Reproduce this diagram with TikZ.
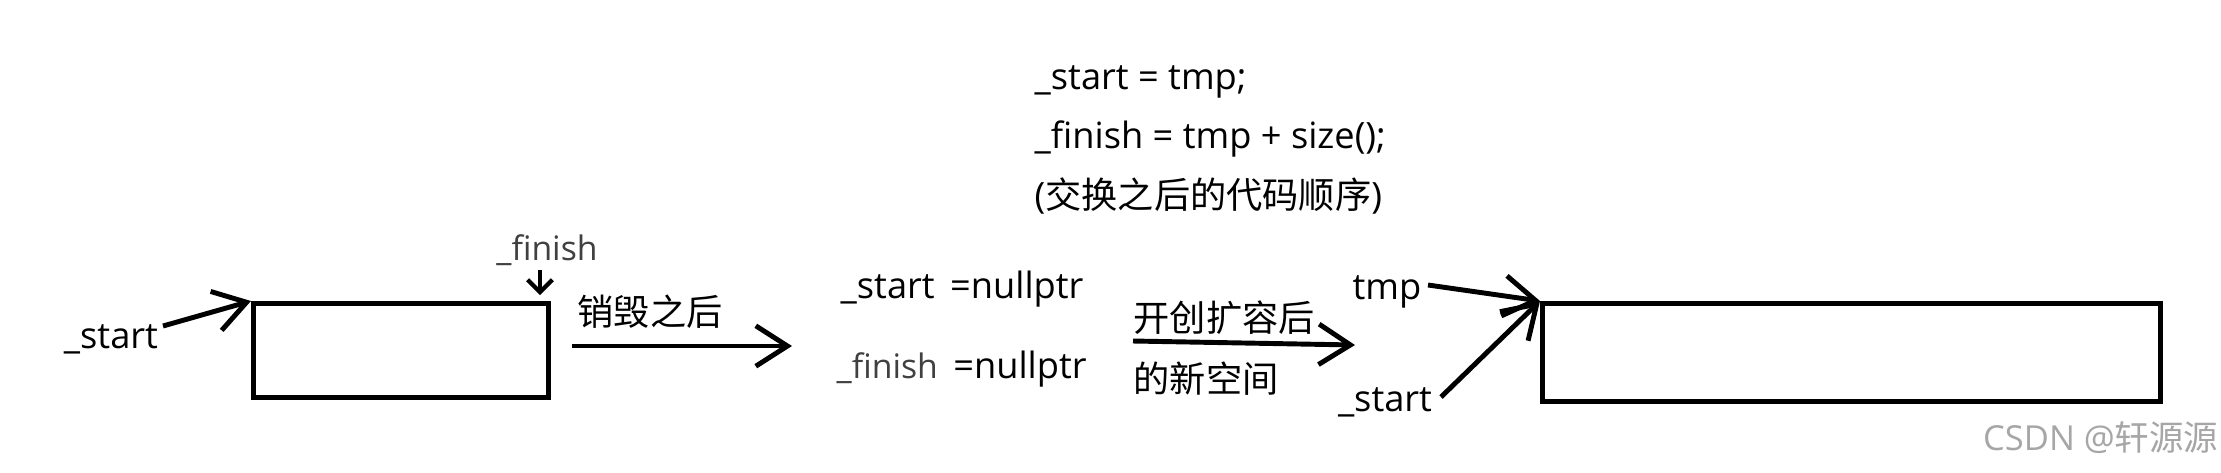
\documentclass[tikz,border=0pt]{standalone}
\usepackage{fontspec}
\setmainfont{Open Sans}
\newfontfamily\cjk{Noto Sans CJK SC}
\usetikzlibrary{arrows.meta}
\tikzset{
  lbl/.style={inner sep=0pt, font=\fontsize{10.3}{12}\selectfont},
  thin lbl/.style={inner sep=0pt, font=\fontsize{9.6}{12}\selectfont, text=black!75},
  boxline/.style={draw, line width=1.4pt},
  arr/.style={line width=1.4pt, -{Straight Barb[length=9pt,width=11.5pt,line width=1.4pt]}},
  smallarr/.style={line width=1.2pt, -{Straight Barb[length=3.5pt,width=7pt,line width=1.2pt]}},
}
\begin{document}
\begin{tikzpicture}[x=0.01cm, y=-0.01cm]
\path[use as bounding box, fill=white] (0,0) rectangle (2221,472);

% top code text
\node[lbl, anchor=west] (c1) at (1034,82) {\_start = tmp;};
\node[lbl, anchor=west] (c2) at (1034,139) {\_finish = tmp + size();};
\node[lbl, anchor=west] (c3) at (1034,196) {({\cjk 交换之后的代码顺序})};

% first box
\node[boxline, inner sep=0pt, anchor=north west, minimum width=2.95cm, minimum height=0.94cm] (box1) at (251,301) {};
\node[thin lbl] (fin1) at (547,250) {\_finish};
\coordinate (fin1a) at (540,270);
\coordinate (fin1b) at (540,295);
\draw[smallarr] (fin1a) -- (fin1b);
\node[lbl] (st1) at (111,339) {\_start};
\coordinate (st1a) at (163,326);
\draw[arr] (st1a) -- (box1.north west);

% arrow 2
\node[lbl] (xh) at (650,312) {\cjk 销毁之后};
\coordinate (a2s) at (572,346);
\coordinate (a2e) at (792,346);
\draw[arr] (a2s) -- (a2e);

% nullptr text
\node[lbl, anchor=west] (n1) at (840,289) {\_start\ \,=nullptr};
\node[lbl, anchor=west] (n2) at (836,369) {{\fontsize{9.6}{12}\selectfont\color{black!75}\_finish}\ \,=nullptr};

% arrow 3
\node[lbl, anchor=west] (kc) at (1133,318) {\cjk 开创扩容后};
\node[lbl, anchor=west] (xk) at (1133,379) {\cjk 的新空间};
\coordinate (a3s) at (1133,341);
\coordinate (a3e) at (1355,345);
\draw[arr] (a3s) -- (a3e);

% second box
\node[boxline, inner sep=0pt, anchor=north west, minimum width=6.18cm, minimum height=0.98cm] (box2) at (1540,301) {};
\node[lbl] (tmp) at (1387,292) {tmp};
\node[lbl] (st2) at (1385,402) {\_start};
\coordinate (tmpa) at (1428,285);
\coordinate (st2a) at (1441,397);
\draw[arr] (tmpa) -- (box2.north west);
\draw[arr] (st2a) -- (box2.north west);

% watermark
\node[inner sep=0pt, anchor=east, text=black!35, font=\fontsize{9.8}{12}\selectfont] (wm) at (2219,438) {CSDN @{\cjk 轩源源}};
\end{tikzpicture}
\end{document}
